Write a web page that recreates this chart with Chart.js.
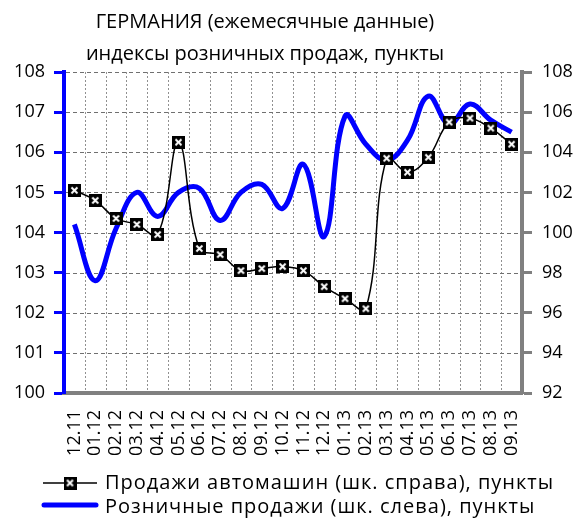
<!DOCTYPE html>
<html>
<head>
<meta charset="utf-8">
<script src="https://cdn.jsdelivr.net/npm/chart.js@4/dist/chart.umd.min.js"></script>
<style>
    body { margin: 0; background: #fff; }
    #wrap { position: relative; width: 581px; height: 522px; font-family: "Open Sans", "Liberation Sans", sans-serif; color: #000; }
    #wrap canvas { position: absolute; }
    .title { position: absolute; left: 0; width: 530px; text-align: center; font-size: 20px; line-height: 20px; white-space: nowrap; }
    .legend-text { position: absolute; left: 105px; font-size: 20px; line-height: 20px; letter-spacing: 1px; white-space: nowrap; }
</style>
</head>
<body>
<div id="wrap">
    <canvas id="salesChart" width="581" height="522" style="left:0;top:0"></canvas>
    <div class="title" id="title1" style="top:11px"></div>
    <div class="title" id="title2" style="top:43px"></div>
    <canvas id="keyCars" width="60" height="16" style="left:40px;top:475px"></canvas>
    <div class="legend-text" id="legendCars" style="top:472px"></div>
    <canvas id="keyRetail" width="60" height="10" style="left:40px;top:500px"></canvas>
    <div class="legend-text" id="legendRetail" style="top:496px"></div>
</div>
<script>
// Germany, monthly data
const months = ['12.11', '01.12', '02.12', '03.12', '04.12', '05.12', '06.12', '07.12', '08.12', '09.12', '10.12',
    '11.12', '12.12', '01.13', '02.13', '03.13', '04.13', '05.13', '06.13', '07.13', '08.13', '09.13'];

// car sales, right scale
const carSales = [102.1, 101.6, 100.7, 100.4, 99.9, 104.5, 99.2, 98.9, 98.1, 98.2, 98.3,
    98.1, 97.3, 96.7, 96.2, 103.7, 103.0, 103.75, 105.5, 105.7, 105.2, 104.4];

// retail sales, left scale
const retailSales = [104.2, 102.8, 104.1, 105.0, 104.4, 105.0, 105.1, 104.3, 105.0, 105.2, 104.6,
    105.7, 103.9, 106.9, 106.2, 105.8, 106.3, 107.4, 106.7, 107.2, 106.8, 106.5];

const titleLines = ['ГЕРМАНИЯ (ежемесячные данные)', 'индексы розничных продаж, пункты'];
const carLabel = 'Продажи автомашин (шк. справа), пункты';
const retailLabel = 'Розничные продажи (шк. слева), пункты';

const FONT = '"Open Sans", "Liberation Sans", sans-serif';
const GREY = '#808080';
const BLUE = '#0000ff';

// black square with a white cross
function makeMarker() {
    const c = document.createElement('canvas');
    c.width = 13;
    c.height = 13;
    const g = c.getContext('2d');
    g.fillStyle = '#000';
    g.fillRect(0, 0, 13, 13);
    g.strokeStyle = '#fff';
    g.lineWidth = 2;
    g.beginPath();
    g.moveTo(3.5, 3.5); g.lineTo(9.5, 9.5);
    g.moveTo(9.5, 3.5); g.lineTo(3.5, 9.5);
    g.stroke();
    return c;
}

// dashed grid under the lines, placed from the scales
const dashedGrid = {
    id: 'dashedGrid',
    beforeDatasetsDraw(chart) {
        const { ctx, chartArea: area, scales: { x, y } } = chart;
        ctx.save();
        ctx.lineWidth = 1;
        ctx.strokeStyle = '#909090';

        ctx.setLineDash([2, 2]);
        for (let i = 1; i < months.length; i++) {
            const px = Math.round(x.getPixelForValue(i - 0.5)) + 0.5;
            ctx.beginPath();
            ctx.moveTo(px, area.top);
            ctx.lineTo(px, area.bottom - 2);
            ctx.stroke();
        }

        ctx.strokeStyle = '#707070';
        ctx.setLineDash([4, 3]);
        y.ticks.forEach(t => {
            if (t.value === y.min) return;
            const py = Math.round(y.getPixelForValue(t.value)) + 0.5;
            ctx.beginPath();
            ctx.moveTo(area.left + 2, py);
            ctx.lineTo(area.right - 2, py);
            ctx.stroke();
        });
        ctx.restore();
    }
};

document.addEventListener('DOMContentLoaded', () => {
    const marker = makeMarker();

    // title and legend
    document.getElementById('title1').textContent = titleLines[0];
    document.getElementById('title2').textContent = titleLines[1];
    document.getElementById('legendCars').textContent = carLabel;
    document.getElementById('legendRetail').textContent = retailLabel;

    const k1 = document.getElementById('keyCars').getContext('2d');
    k1.strokeStyle = '#000';
    k1.lineWidth = 1.5;
    k1.beginPath();
    k1.moveTo(3, 8);
    k1.lineTo(57, 8);
    k1.stroke();
    k1.drawImage(marker, 30 - 6.5, 8 - 6.5);

    const k2 = document.getElementById('keyRetail').getContext('2d');
    k2.strokeStyle = BLUE;
    k2.lineWidth = 5;
    k2.lineCap = 'round';
    k2.beginPath();
    k2.moveTo(4, 5);
    k2.lineTo(56, 5);
    k2.stroke();

    Chart.defaults.font.family = FONT;
    Chart.defaults.color = '#000';

    const ctx = document.getElementById('salesChart').getContext('2d');
    new Chart(ctx, {
        type: 'line',
        data: {
            labels: months,
            datasets: [{
                label: carLabel,
                data: carSales,
                yAxisID: 'y1',
                borderColor: '#000',
                borderWidth: 1.5,
                tension: 0.4,
                pointStyle: marker,
                pointRadius: 6,
                order: 0
            }, {
                label: retailLabel,
                data: retailSales,
                yAxisID: 'y',
                borderColor: BLUE,
                borderWidth: 5,
                tension: 0.4,
                pointRadius: 0,
                order: 1
            }]
        },
        options: {
            responsive: false,
            animation: false,
            events: [],
            layout: {
                padding: { top: 72, bottom: 59, left: 0, right: 0 }
            },
            plugins: {
                legend: { display: false }
            },
            scales: {
                x: {
                    offset: true,
                    grid: {
                        offset: true,
                        drawOnChartArea: false,
                        drawTicks: false
                    },
                    border: { color: GREY, width: 4 },
                    ticks: {
                        font: { size: 18 },
                        minRotation: 90,
                        maxRotation: 90,
                        autoSkip: false,
                        padding: 17
                    },
                    afterFit(scale) { scale.height = 70; }
                },
                y: {
                    position: 'left',
                    min: 100,
                    max: 108,
                    grid: {
                        drawOnChartArea: false,
                        tickColor: BLUE,
                        tickWidth: 3,
                        tickLength: 10
                    },
                    border: { color: BLUE, width: 4 },
                    ticks: {
                        stepSize: 1,
                        font: { size: 18 },
                        padding: 9
                    },
                    afterFit(scale) { scale.width = 64; }
                },
                y1: {
                    position: 'right',
                    min: 92,
                    max: 108,
                    grid: {
                        drawOnChartArea: false,
                        tickColor: GREY,
                        tickWidth: 3,
                        tickLength: 10
                    },
                    border: { color: GREY, width: 4 },
                    ticks: {
                        stepSize: 2,
                        font: { size: 18 },
                        padding: 10
                    },
                    afterFit(scale) { scale.width = 59; }
                }
            }
        },
        plugins: [dashedGrid]
    });
});
</script>
</body>
</html>
